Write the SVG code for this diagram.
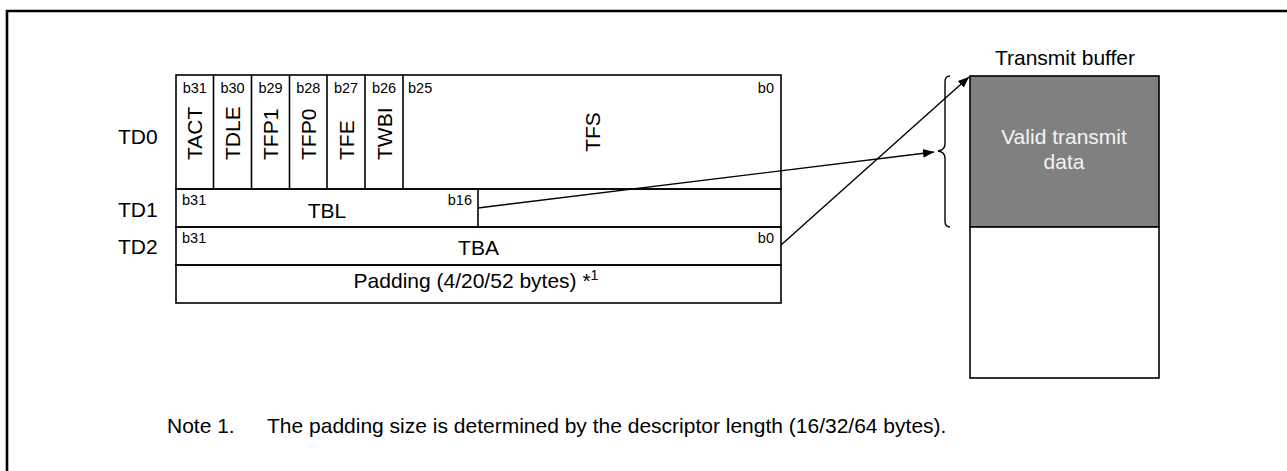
<svg xmlns="http://www.w3.org/2000/svg" width="1287" height="471" viewBox="0 0 1287 471">
<defs>
<style>
.t{font-family:"Liberation Sans",Arial,sans-serif;fill:#000}
.m{font-size:21px}
.s{font-size:14.5px}
.ln{stroke:#000;stroke-width:1.6;fill:none}
.cn{stroke:#000;stroke-width:1.4;fill:none}
</style>
<marker id="ah" viewBox="0 0 10 10" refX="10" refY="5" markerWidth="11" markerHeight="11" markerUnits="userSpaceOnUse" orient="auto">
<path d="M0,1 L10,5 L0,9 Z" fill="#000"/>
</marker>
</defs>
<rect width="1287" height="471" fill="#fff"/>
<path d="M7,471 V11 H1287" stroke="#000" stroke-width="2.6" fill="none"/>

<g id="labels">
<text class="t m" x="118" y="144">TD0</text>
<text class="t m" x="118" y="217">TD1</text>
<text class="t m" x="118" y="254">TD2</text>
</g>

<g id="td0">
<rect class="ln" x="176" y="75" width="605" height="114" fill="#fff"/>
<path class="ln" d="M213.5,75V189M251.5,75V189M289.5,75V189M327,75V189M365,75V189M403,75V189"/>
<g class="t s" text-anchor="middle">
<text x="194.8" y="93">b31</text>
<text x="232.5" y="93">b30</text>
<text x="270.5" y="93">b29</text>
<text x="308.3" y="93">b28</text>
<text x="346" y="93">b27</text>
<text x="384" y="93">b26</text>
</g>
<text class="t s" x="408" y="93">b25</text>
<text class="t s" x="774" y="93" text-anchor="end">b0</text>
<g class="t m">
<text transform="translate(202.3,160) rotate(-90)">TACT</text>
<text transform="translate(240,160) rotate(-90)">TDLE</text>
<text transform="translate(278,160) rotate(-90)">TFP1</text>
<text transform="translate(315.8,160) rotate(-90)">TFP0</text>
<text transform="translate(353.5,160) rotate(-90)">TFE</text>
<text transform="translate(391.5,160) rotate(-90)">TWBI</text>
</g>
<text class="t m" transform="translate(600,132) rotate(-90)" text-anchor="middle">TFS</text>
</g>

<g id="td1">
<rect class="ln" x="176" y="189" width="605" height="38"/>
<path class="ln" d="M478,189V227"/>
<text class="t s" x="182" y="205">b31</text>
<text class="t s" x="472" y="205" text-anchor="end">b16</text>
<text class="t m" x="327" y="218" text-anchor="middle">TBL</text>
</g>

<g id="td2">
<rect class="ln" x="176" y="227" width="605" height="38"/>
<text class="t s" x="182" y="243">b31</text>
<text class="t s" x="774" y="243" text-anchor="end">b0</text>
<text class="t m" x="478.5" y="255" text-anchor="middle">TBA</text>
</g>

<g id="padding">
<rect class="ln" x="176" y="265" width="605" height="38"/>
<text class="t m" x="476" y="288" text-anchor="middle">Padding (4/20/52 bytes) *<tspan font-size="14" dy="-8">1</tspan></text>
</g>

<g id="buffer">
<text class="t m" x="1065" y="65" text-anchor="middle">Transmit buffer</text>
<rect x="970" y="76" width="189" height="151" fill="#808080" stroke="#000" stroke-width="1.6"/>
<rect x="970" y="227" width="189" height="151" fill="#fff" stroke="#000" stroke-width="1.6"/>
<text class="t m" x="1064" y="144" text-anchor="middle" style="fill:#f4f4f4">Valid transmit</text>
<text class="t m" x="1064" y="169" text-anchor="middle" style="fill:#f4f4f4">data</text>
</g>

<g id="brace">
<path class="cn" d="M950,76 Q945,76 945,82 V144 Q945,150 938,151 Q945,152 945,158 V221 Q945,227 950,227"/>
</g>

<g id="connectors">
<line class="cn" x1="478" y1="208" x2="934" y2="152" marker-end="url(#ah)"/>
<line class="cn" x1="781" y1="245" x2="969" y2="77" marker-end="url(#ah)"/>
</g>

<g id="note">
<text class="t m" x="167" y="433">Note 1.</text>
<text class="t m" x="267" y="433">The padding size is determined by the descriptor length (16/32/64 bytes).</text>
</g>
</svg>
